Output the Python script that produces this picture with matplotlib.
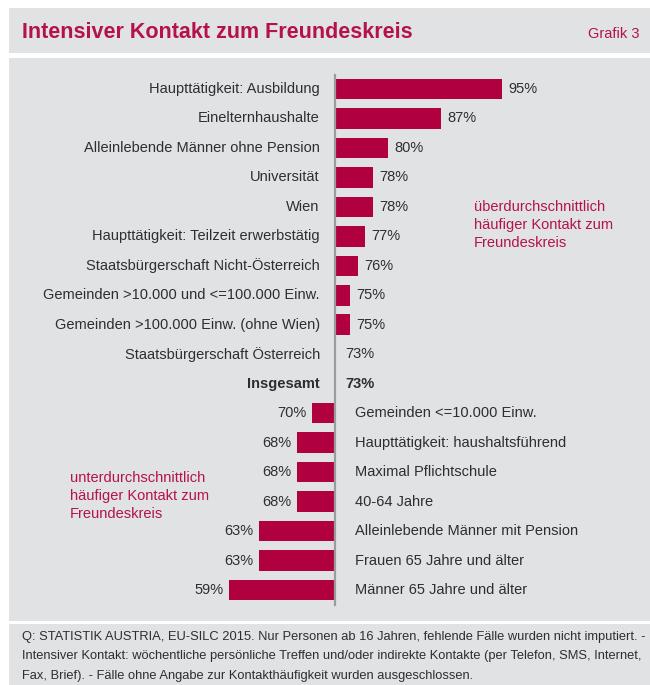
import matplotlib
matplotlib.use("Agg")
import matplotlib.pyplot as plt
from matplotlib.patches import Rectangle

plt.rcParams['font.family'] = ['Liberation Sans', 'DejaVu Sans']

categories = [
    "Haupttätigkeit: Ausbildung",
    "Einelternhaushalte",
    "Alleinlebende Männer ohne Pension",
    "Universität",
    "Wien",
    "Haupttätigkeit: Teilzeit erwerbstätig",
    "Staatsbürgerschaft Nicht-Österreich",
    "Gemeinden >10.000 und <=100.000 Einw.",
    "Gemeinden >100.000 Einw. (ohne Wien)",
    "Staatsbürgerschaft Österreich",
    "Insgesamt",
    "Gemeinden <=10.000 Einw.",
    "Haupttätigkeit: haushaltsführend",
    "Maximal Pflichtschule",
    "40-64 Jahre",
    "Alleinlebende Männer mit Pension",
    "Frauen 65 Jahre und älter",
    "Männer 65 Jahre und älter",
]
values = [95, 87, 80, 78, 78, 77, 76, 75, 75, 73, 73, 70, 68, 68, 68, 63, 63, 59]
total_label = "Insgesamt"
baseline = 73

title = "Intensiver Kontakt zum Freundeskreis"
grafik = "Grafik 3"
note_above = "überdurchschnittlich\nhäufiger Kontakt zum\nFreundeskreis"
note_below = "unterdurchschnittlich\nhäufiger Kontakt zum\nFreundeskreis"
footnote_lines = [
    "Q: STATISTIK AUSTRIA, EU-SILC 2015. Nur Personen ab 16 Jahren, fehlende Fälle wurden nicht imputiert. -",
    "Intensiver Kontakt: wöchentliche persönliche Treffen und/oder indirekte Kontakte (per Telefon, SMS, Internet,",
    "Fax, Brief). - Fälle ohne Angabe zur Kontakthäufigkeit wurden ausgeschlossen.",
]

W, H = 650, 685
GRAY = "#e1e2e4"
CRIMSON = "#b1003f"
TEXTRED = "#b5124b"
DARK = "#2e2e2e"

fig = plt.figure(figsize=(W / 100, H / 100), dpi=100)
fig.patch.set_facecolor("white")


def fx(x):
    return x / W


def fy(y):
    return 1 - y / H


def panel(x0, y0, x1, y1):
    fig.patches.append(Rectangle((fx(x0), fy(y1)), fx(x1) - fx(x0), fy(y0) - fy(y1),
                                 transform=fig.transFigure, facecolor=GRAY,
                                 edgecolor="none", zorder=-10))


panel(9, 8, 650, 53)
panel(9, 58, 650, 621)
panel(9, 624, 650, 685)

fig.text(fx(22), fy(33), title, color=TEXTRED, fontsize=15.5, fontweight="bold",
         va="center", ha="left")
fig.text(fx(640), fy(34), grafik, color=TEXTRED, fontsize=10.5, va="center", ha="right")

for i, line in enumerate(footnote_lines):
    fig.text(fx(22), fy(637 + i * 19.5), line, color=DARK, fontsize=9.3,
             va="center", ha="left")

# axes covering the whole figure, mapped so rows/percent land in place
ax = fig.add_axes([0, 0, 1, 1], zorder=5)
ax.set_facecolor("none")
ax.axis("off")
px_per_pct = 7.6
x_base_px = 335
ax.set_xlim(baseline - x_base_px / px_per_pct, baseline + (W - x_base_px) / px_per_pct)
row0, row_step = 89, 29.47
ax.set_ylim((H - row0) / row_step, -row0 / row_step)

ypos = list(range(len(categories)))
ax.barh(ypos, [v - baseline for v in values], left=baseline, height=0.7,
        color=CRIMSON, zorder=2)
ax.plot([baseline, baseline], [-0.48, 17.5], color="#9c9c9c", lw=1.6, zorder=3)

fs = 10.5
for y, cat, v in zip(ypos, categories, values):
    bold = "bold" if cat == total_label else "normal"
    if v >= baseline:
        ax.text(baseline - 2.0, y, cat, ha="right", va="center", fontsize=fs,
                color=DARK, fontweight=bold)
        vx = v + 0.8 if v > baseline else baseline + 1.3
        ax.text(vx, y, f"{v}%", ha="left", va="center", fontsize=fs,
                color=DARK, fontweight=bold)
    else:
        ax.text(baseline + 2.6, y, cat, ha="left", va="center", fontsize=fs,
                color=DARK)
        ax.text(v - 0.7, y, f"{v}%", ha="right", va="center", fontsize=fs,
                color=DARK)

ax.text(baseline + (474 - x_base_px) / px_per_pct, (200 - row0) / row_step, note_above,
        ha="left", va="top", fontsize=fs, color=TEXTRED, linespacing=1.35)
ax.text(baseline + (70 - x_base_px) / px_per_pct, (471 - row0) / row_step, note_below,
        ha="left", va="top", fontsize=fs, color=TEXTRED, linespacing=1.35)

fig.savefig("out.png", dpi=100, facecolor="white")
